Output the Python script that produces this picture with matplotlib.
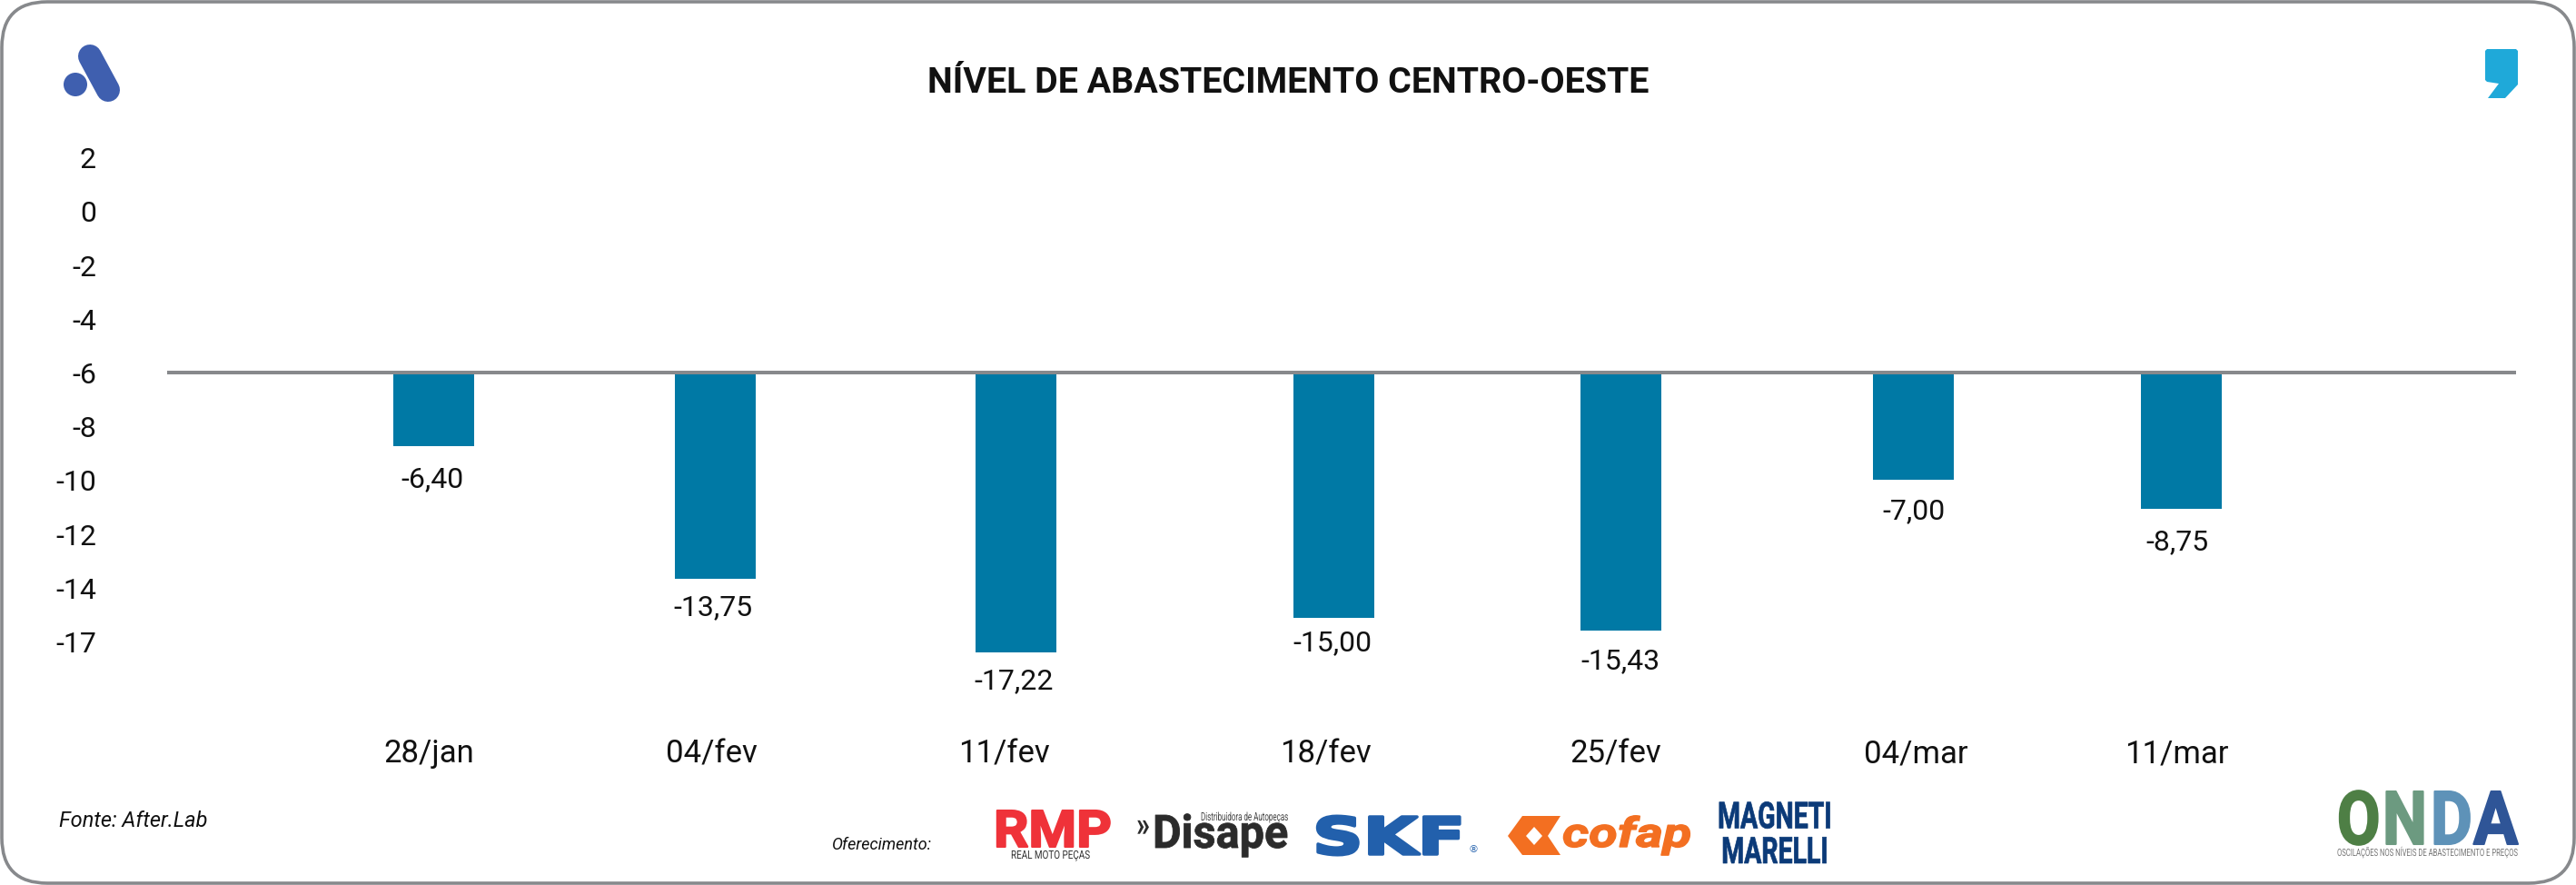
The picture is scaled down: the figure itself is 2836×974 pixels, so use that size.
import matplotlib
matplotlib.use("Agg")
import matplotlib.pyplot as plt
from matplotlib.patches import FancyBboxPatch, Ellipse, Polygon
from matplotlib.patheffects import AbstractPathEffect
from matplotlib.transforms import Affine2D, ScaledTranslation

W, H = 2836, 974

# ---- data ----
categories = ["28/jan", "04/fev", "11/fev", "18/fev", "25/fev", "04/mar", "11/mar"]
value_labels = ["-6,40", "-13,75", "-17,22", "-15,00", "-15,43", "-7,00", "-8,75"]
# where each bar ends on the drawn axis (the published axis is not to scale with its labels)
bar_ends = [-8.76, -13.68, -16.42, -15.14, -15.62, -10.02, -11.08]
baseline = -6
y_ticks = [2, 0, -2, -4, -6, -8, -10, -12, -14, -16]
y_tick_labels = ["2", "0", "-2", "-4", "-6", "-8", "-10", "-12", "-14", "-17"]

# ---- layout (pixels of the 2836x974 canvas) ----
bar_centers = [477.5, 787.5, 1118.5, 1468, 1784.5, 2106.5, 2401.5]
bar_width = 89
cat_centers = [472, 783, 1105, 1459, 1779, 2109, 2396]
label_centers = [476, 785, 1116, 1467, 1784, 2107, 2397]
label_gaps = [36, 32, 32, 28, 33, 34, 37]
px_per_unit = 29.6
base_px = 409.5
BLUE = "#0079A5"
GREY = "#87898C"
FONT = "Roboto"


def v_at(px):
    return baseline - (px - base_px) / px_per_unit


fig = plt.figure(figsize=(W / 100, H / 100), dpi=100, facecolor="white")
ax = fig.add_axes([0, 0, 1, 1], facecolor="none")
ax.set_xlim(0, W)
ax.set_ylim(v_at(H), v_at(0))

ax.bar(bar_centers, [e - baseline for e in bar_ends], width=bar_width,
       bottom=baseline, color=BLUE, zorder=2)
ax.plot([184, 2770], [baseline, baseline], color=GREY, lw=2.9,
        solid_capstyle="butt", zorder=3)

for x, e, g, t in zip(label_centers, bar_ends, label_gaps, value_labels):
    ax.text(x, e - g / px_per_unit, t, ha="center", va="center", fontsize=23,
            family=FONT, color="#111111")

for s in ("top", "right"):
    ax.spines[s].set_visible(False)
ax.spines["left"].set_position(("data", 106))
ax.spines["bottom"].set_position(("data", v_at(813)))
ax.spines["left"].set_visible(False)
ax.spines["bottom"].set_visible(False)
ax.set_yticks(y_ticks, y_tick_labels, fontsize=23, family=FONT, color="#111111")
ax.set_xticks(cat_centers, categories, fontsize=25, family=FONT, color="#111111")
ax.tick_params(length=0, pad=0)
shift = ScaledTranslation(0, -4 / 100, fig.dpi_scale_trans)
for lab in ax.get_yticklabels():
    lab.set_verticalalignment("center")
    lab.set_transform(lab.get_transform() + shift)

# ---- overlay: frame, title, source and logos in pixel coordinates ----
ov = fig.add_axes([0, 0, 1, 1], facecolor="none")
ov.set_xlim(0, W)
ov.set_ylim(H, 0)
ov.axis("off")

ov.add_patch(FancyBboxPatch((2, 2), W - 4, H - 4, boxstyle="round,pad=0,rounding_size=50",
                            fc="none", ec=GREY, lw=2.6))
ov.text(1418, 91, "NÍVEL DE ABASTECIMENTO CENTRO-OESTE", ha="center", va="center",
        fontsize=28.4, fontweight="bold", family=FONT, color="#111111")
ov.text(65, 903, "Fonte: After.Lab", ha="left", va="center", fontsize=17,
        style="italic", family=FONT, color="#111111")
ov.text(916, 930, "Oferecimento:", ha="left", va="center", fontsize=13,
        style="italic", family=FONT, color="#111111")

# left mark
LOGO = "#3F5FAF"
ov.plot([99, 119], [62, 99], color=LOGO, lw=26 * 0.72, solid_capstyle="round")
ov.add_patch(Ellipse((83, 93), 26, 26, fc=LOGO, ec="none"))
# right mark
ov.add_patch(Polygon([(2736, 56), (2738, 54), (2770, 54), (2772, 56), (2772, 93), (2758, 108),
                      (2739, 108), (2751, 92), (2738, 90), (2736, 88)],
                     closed=True, fc="#1FA9D9", ec="none"))

renderer = fig.canvas.get_renderer()


class StretchY(AbstractPathEffect):
    """Stretches a text vertically about its baseline, optionally emboldens it; it stays a real text."""

    def __init__(self, sy, bold=0.0):
        super().__init__()
        self.sy = sy
        self.bold = bold

    def draw_path(self, renderer, gc, tpath, affine, rgbFace=None):
        gc0 = renderer.new_gc()
        gc0.copy_properties(gc)
        gc0.set_linewidth(self.bold)
        gc0.set_foreground(rgbFace)
        renderer.draw_path(gc0, tpath, Affine2D().scale(1, self.sy) + affine, rgbFace)
        gc0.restore()


def wordmark(x0, x1, top, base, text, color, cap=0.711, bold=0.0, **kw):
    """Logo wordmark: real text spanning x0..x1, its capitals reaching from top to base."""
    t = ov.text(x0, base, text, ha="left", va="baseline", color=color, fontsize=20, **kw)
    size = 20 * (x1 - x0) / t.get_window_extent(renderer).width
    t.set_fontsize(size)
    t.set_path_effects([StretchY((base - top) / (size / 0.72 * cap), bold)])
    return t


# RMP
wordmark(1094, 1224, 892, 932, "RMP", "#EF3239", bold=1.5, family=FONT, fontweight="bold")
wordmark(1113, 1200, 936, 945, "REAL MOTO PEÇAS", "#333333", family=FONT)
# Disape
wordmark(1251, 1266, 893, 920, "»", "#2B2B2B", family=FONT, fontweight="bold")
wordmark(1269, 1418, 897, 933, "Disape", "#2B2B2B", bold=0.6, family=FONT, fontweight="bold")
wordmark(1322, 1418, 894, 903, "Distribuidora de Autopeças", "#444444", family=FONT)
# SKF
wordmark(1445, 1613, 899, 940, "SKF", "#2260AC", cap=0.729, bold=2.5, family="DejaVu Sans", fontweight="bold")
ov.text(1622, 935, "®", ha="center", va="center", color="#2260AC", fontsize=8, family="DejaVu Sans")
# cofap
C = "#F36F21"
ov.add_patch(Polygon([(1660, 920), (1676, 898), (1718, 898), (1704, 920), (1718, 941), (1676, 941)],
                     closed=True, fc=C, ec="none"))
ov.add_patch(Polygon([(1680, 920), (1689, 910), (1698, 920), (1689, 930)],
                     closed=True, fc="white", ec="none"))
wordmark(1720, 1862, 900, 932, "cofap", C, bold=1.0, family=FONT, fontweight="bold", style="italic")
# Magneti Marelli: one two-line text, baselines 33 px apart
M = "#0B3A78"
mm = ov.text(1954, 950, "MAGNETI\nMARELLI", ha="center", va="baseline", color=M, fontsize=20.5,
             linespacing=1.55, multialignment="center", family=FONT, fontweight="bold")
mm.set_path_effects([StretchY(1.42, 0.5)])
# ONDA
onda_x = [(2573, 2620), (2623, 2672), (2676, 2722), (2723, 2772)]
for (a, b), ch, col in zip(onda_x, "ONDA", ["#4E7F45", "#6C9A80", "#5E92B8", "#2F5597"]):
    wordmark(a, b, 871, 929, ch, col, bold=1.5, family=FONT, fontweight="bold")
wordmark(2573, 2772, 934, 942, "OSCILAÇÕES NOS NÍVEIS DE ABASTECIMENTO E PREÇOS", "#777777", family=FONT)

fig.savefig("out.png", dpi=100, facecolor="white")
